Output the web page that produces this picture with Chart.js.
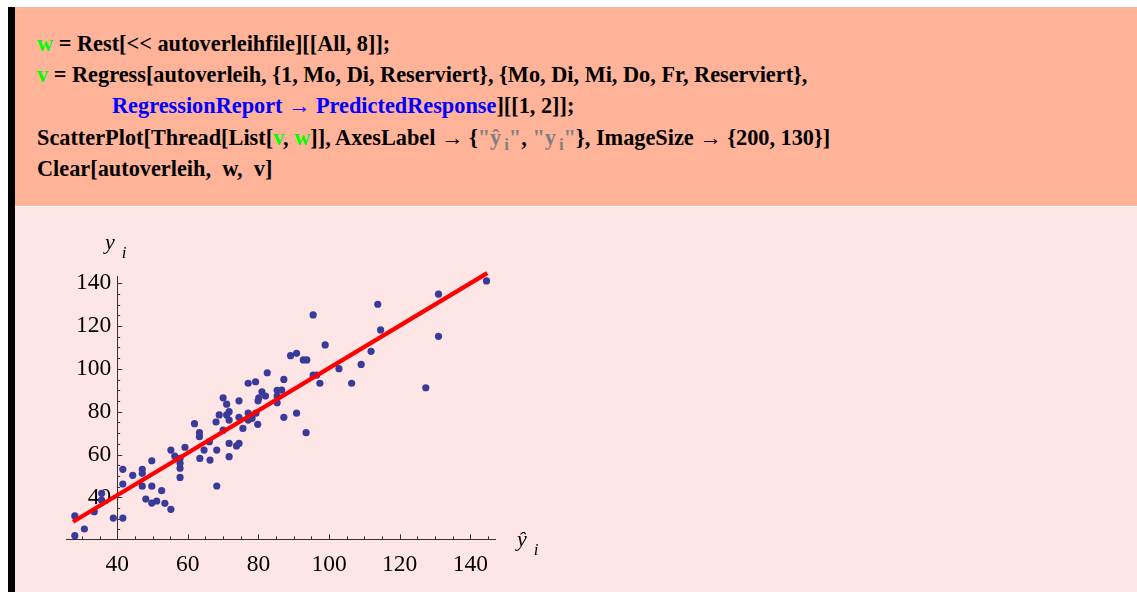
<!DOCTYPE html>
<html>
<head>
<meta charset="utf-8">
<script src="https://cdn.jsdelivr.net/npm/chart.js@4.4.0/dist/chart.umd.min.js"></script>
<style>
  body { margin: 0; width: 1137px; height: 592px; background: #fff; position: relative; overflow: hidden;
         font-family: "Liberation Serif", "Times New Roman", serif; }
  #bar { position: absolute; left: 8px; top: 7px; width: 7px; height: 585px; background: #000; }
  #cell { position: absolute; left: 15px; top: 7px; right: 0; height: 199px; background: #ffb399; }
  #out { position: absolute; left: 15px; top: 207px; right: 0; bottom: 0; background: #ffe6e6; }
  .ln { position: absolute; left: 37px; font-weight: bold; font-size: 22.3px; line-height: 31px;
        white-space: pre; color: #000; }
  .g { color: #00ff00; }
  .b { color: #0000ff; }
  .s { color: #808080; }
  .ln sub { font-size: 75%; vertical-align: -5px; line-height: 0; margin-left: 3px; }
  #wrap { position: absolute; left: 0; top: 207px; width: 600px; height: 385px; }
  .al { position: absolute; font-style: italic; font-size: 22px; line-height: 22px; white-space: pre; }
  .al sub { font-size: 17px; vertical-align: -9px; line-height: 0; margin-left: 7px; }
</style>
</head>
<body>
<div id="cell"></div>
<div id="out"></div>
<div id="bar"></div>

<div class="ln" style="top:28px"><span class="g">w</span> = Rest[&lt;&lt; autoverleihfile][[All, 8]];</div>
<div class="ln" style="top:59px"><span class="g">v</span> = Regress[autoverleih, {1, Mo, Di, Reserviert}, {Mo, Di, Mi, Do, Fr, Reserviert},</div>
<div class="ln" style="top:90px;left:112px"><span class="b">RegressionReport → PredictedResponse</span>][[1, 2]];</div>
<div class="ln" style="top:122px">ScatterPlot[Thread[List[<span class="g">v</span>, <span class="g">w</span>]], AxesLabel → {<span class="s">"ŷ<sub>i</sub>"</span>, <span class="s">"y<sub>i</sub>"</span>}, ImageSize → {200, 130}]</div>
<div class="ln" style="top:153px">Clear[autoverleih,  w,  v]</div>

<div id="wrap"><canvas id="chart" width="600" height="385"></canvas></div>
<div class="al" style="left:105px;top:231px">y<sub>i</sub></div>
<div class="al" style="left:517px;top:528px">ŷ<sub>i</sub></div>

<script>
const predicted = [
  28.0, 28.0, 30.7, 33.5, 35.6, 35.6, 38.9, 41.6, 41.6, 41.6,
  44.4, 47.1, 47.1, 47.1, 49.8, 49.8, 48.1, 49.8, 51.2, 52.6,
  53.5, 55.2, 55.2, 56.3, 57.8, 57.8, 57.8, 57.8, 59.2, 61.9,
  63.3, 63.3, 63.4, 64.6, 66.1, 66.3, 68.2, 68.2, 68.0, 70.0,
  70.0, 68.9, 71.0, 71.0, 71.7, 71.7, 71.7, 71.7, 73.8, 74.5,
  74.5, 74.5, 75.6, 77.1, 79.2, 77.1, 77.1, 78.2, 79.8, 79.9,
  80.1, 79.3, 81.0, 82.0, 82.5, 85.3, 86.6, 85.3, 85.3, 87.2,
  87.2, 89.1, 90.8, 90.8, 92.7, 93.7, 93.5, 95.5, 95.5, 96.5,
  97.4, 98.9, 102.8, 106.4, 109.1, 111.9, 113.8, 114.6, 127.4, 131.0,
  131.0, 144.6
];
const observed = [
  31.3, 22.1, 25.2, 33.3, 41.9, 38.7, 30.3, 30.3, 53.1, 46.2,
  50.3, 53.1, 51.2, 45.2, 57.1, 45.2, 39.2, 37.3, 38.3, 43.1,
  37.2, 34.4, 62.1, 59.3, 58.2, 55.9, 53.6, 49.3, 63.4, 74.4,
  70.2, 68.3, 58.2, 62.1, 66.0, 57.4, 62.1, 45.3, 75.2, 86.5,
  71.4, 78.5, 83.5, 78.5, 80.0, 76.1, 65.2, 59.0, 64.0, 65.2,
  85.1, 77.4, 72.2, 93.3, 94.0, 79.3, 76.1, 76.9, 74.1, 85.1,
  86.5, 79.3, 89.3, 87.3, 98.2, 90.0, 90.1, 87.3, 84.2, 95.1,
  77.4, 106.2, 107.3, 79.3, 104.2, 104.2, 70.2, 125.2, 97.1, 97.1,
  93.3, 111.2, 100.1, 93.3, 102.1, 108.2, 130.2, 118.2, 91.2, 134.9,
  115.2, 141.1
];
const fitX = [27.5, 144.8];
const fitY = [28.6, 144.7];
const xTickLabels = [40, 60, 80, 100, 120, 140];
const yTickLabels = [40, 60, 80, 100, 120, 140];

const xRange = [25.7, 147];
const yRange = [20.4, 143.4];
const axisCross = { x: 40, y: 20.4 };
const tickFont = { family: 'Liberation Serif', size: 23.5 };
const axisColor = '#333';

// Mathematica style ticks: every 5, longer at multiples of 20, pointing into the plot
const tickMarks = {
  id: 'tickMarks',
  afterDraw(chart) {
    const { ctx, scales: { x, y } } = chart;
    const ax = x.getPixelForValue(axisCross.x);
    const ay = y.getPixelForValue(axisCross.y);
    ctx.save();
    ctx.strokeStyle = axisColor;
    ctx.lineWidth = 1;
    ctx.beginPath();
    for (let v = Math.ceil(xRange[0] / 5) * 5; v <= xRange[1]; v += 5) {
      const px = Math.round(x.getPixelForValue(v)) + 0.5;
      const len = v % 20 === 0 ? 5 : 3;
      ctx.moveTo(px, ay);
      ctx.lineTo(px, ay - len);
    }
    for (let v = Math.ceil(yRange[0] / 5) * 5; v <= yRange[1]; v += 5) {
      const py = Math.round(y.getPixelForValue(v)) + 0.5;
      const len = v % 20 === 0 ? 5 : 3;
      ctx.moveTo(ax, py);
      ctx.lineTo(ax + len, py);
    }
    ctx.stroke();
    ctx.restore();
  }
};

new Chart(document.getElementById('chart'), {
  type: 'scatter',
  data: {
    datasets: [
      {
        data: fitX.map((v, i) => ({ x: v, y: fitY[i] })),
        showLine: true,
        borderColor: '#ff0000',
        borderWidth: 4.3,
        pointRadius: 0,
        clip: false,
        order: 0
      },
      {
        data: predicted.map((v, i) => ({ x: v, y: observed[i] })),
        backgroundColor: 'rgb(58, 58, 155)',
        borderWidth: 0,
        pointRadius: 3.6,
        order: 1
      }
    ]
  },
  options: {
    responsive: false,
    animation: false,
    events: [],
    layout: { padding: { left: 66.7, right: 105, top: 69, bottom: 52.7 } },
    plugins: { legend: { display: false }, tooltip: { enabled: false } },
    scales: {
      x: {
        type: 'linear',
        min: xRange[0],
        max: xRange[1],
        position: { y: axisCross.y },
        afterBuildTicks: (s) => { s.ticks = xTickLabels.map(v => ({ value: v })); },
        grid: { drawOnChartArea: false, drawTicks: false },
        border: { display: true, color: axisColor, width: 1 },
        ticks: { color: '#000', font: tickFont, padding: 11, maxRotation: 0, autoSkip: false }
      },
      y: {
        type: 'linear',
        min: yRange[0],
        max: yRange[1],
        position: { x: axisCross.x },
        afterBuildTicks: (s) => { s.ticks = yTickLabels.map(v => ({ value: v })); },
        grid: { drawOnChartArea: false, drawTicks: false },
        border: { display: true, color: axisColor, width: 1 },
        // centred axes get no label padding, so a trailing space keeps the gap
        ticks: { color: '#000', font: tickFont, autoSkip: false, callback: (v) => v + ' ' }
      }
    }
  },
  plugins: [tickMarks]
});
</script>
</body>
</html>
